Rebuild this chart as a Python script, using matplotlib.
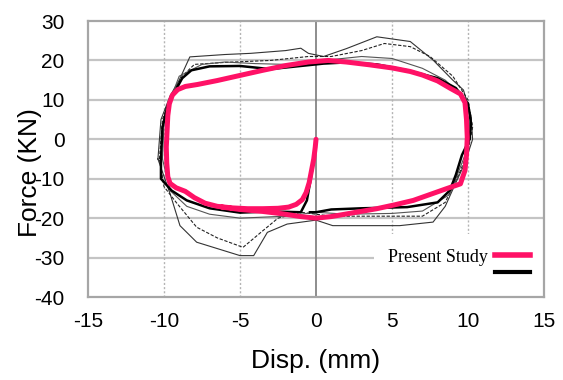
import numpy as np
import matplotlib.pyplot as plt
from matplotlib.lines import Line2D

plt.rcParams['font.family'] = ['Liberation Sans', 'DejaVu Sans']
plt.rcParams['axes.unicode_minus'] = False

# Present Study (numerical) loop
study_x = [0.0, -0.05, -0.15, -0.3, -0.45, -0.65, -0.9, -1.3, -1.8, -2.5, -3.5, -4.5, -5.5,
           -6.5, -7.3, -8.0, -8.6, -9.2, -9.6, -9.75, -9.82, -9.85, -9.8, -9.75, -9.65, -9.45,
           -9.1, -8.6, -7.8, -6.5, -5.0, -3.5, -2.0, -0.5, 0.8, 2.0, 3.5, 5.0, 6.2, 7.0, 8.0,
           8.8, 9.5, 9.8, 9.9, 9.95, 9.9, 9.8, 9.5, 8.6, 7.5, 6.4, 5.2, 4.0, 2.5, 1.0, 0.0,
           -1.0, -2.2, -3.5, -5.0, -6.2]
study_y = [0.0, -2.0, -5.0, -8.0, -11.0, -13.5, -15.3, -16.5, -17.2, -17.5, -17.6, -17.6,
           -17.4, -17.0, -16.2, -14.8, -13.2, -12.3, -11.2, -9.5, -6.0, -2.0, 2.0, 6.0, 9.0,
           11.2, 12.6, 13.4, 13.9, 14.9, 16.2, 17.5, 18.7, 19.6, 20.0, 19.6, 18.9, 18.1, 17.2,
           16.3, 14.8, 13.0, 11.5, 9.3, 5.0, 0.5, -4.0, -7.9, -11.3, -12.5, -14.0, -15.5,
           -16.6, -17.6, -18.6, -19.6, -20.0, -19.6, -18.9, -18.3, -17.8, -17.2]

# Experimental loops (test results)
exp_a_x = [0.0, -0.3, -0.6, -1.0, -3.0, -5.0, -7.0, -8.5, -9.5, -10.2, -10.2, -10.1, -9.8,
           -9.3, -8.8, -8.2, -7.0, -5.0, -3.0, -1.0, 0.5, 2.0, 4.0, 6.0, 8.0, 9.2, 10.0, 10.2,
           10.1, 9.6, 9.2, 8.8, 8.0, 6.0, 3.0, 1.0, 0.0, -0.4]
exp_a_y = [0.0, -9.0, -15.5, -18.5, -18.3, -18.6, -17.5, -15.5, -13.0, -10.0, -5.0, 3.0, 8.0,
           12.0, 15.5, 17.5, 18.5, 18.6, 17.8, 18.6, 19.2, 19.5, 19.0, 17.5, 15.5, 13.0, 9.0,
           4.0, 0.0, -4.0, -9.0, -13.0, -16.0, -17.2, -17.5, -17.8, -18.5, -18.5]

exp_b_x = [-10.3, -10.1, -9.5, -8.8, -8.0, -6.0, -3.0, -0.5, 1.0, 3.0, 4.5, 6.2, 7.5, 9.0,
           10.0, 10.3, 10.0, 9.5, 9.0, 8.5, 7.0, 4.0, 1.0, 0.0, -1.0, -2.5, -3.5, -4.8, -6.5,
           -7.85, -9.2, -10.0, -10.3]
exp_b_y = [-5.0, 5.0, 11.0, 16.0, 19.0, 19.5, 20.0, 21.0, 21.0, 22.5, 24.3, 23.5, 21.0, 16.0,
           10.0, 3.0, -3.0, -8.0, -12.0, -16.0, -19.5, -19.5, -19.5, -19.0, -18.5, -20.0,
           -23.2, -27.4, -25.0, -22.3, -16.0, -12.0, -5.0]

exp_c_x = [-10.4, -10.2, -9.6, -9.0, -8.3, -6.0, -4.3, -2.0, -1.0, -0.5, 0.5, 2.0, 4.0, 6.2,
           7.7, 9.0, 9.7, 10.2, 10.3, 9.8, 9.2, 8.5, 7.7, 5.5, 1.1, 0.0, -1.9, -3.2, -4.1,
           -5.0, -7.85, -8.95, -9.6, -10.4]
exp_c_y = [-5.0, 5.0, 11.0, 15.0, 20.9, 21.5, 21.8, 22.5, 23.1, 21.8, 21.0, 23.0, 26.0, 24.8,
           20.1, 15.0, 12.5, 6.0, 0.0, -6.0, -11.0, -17.0, -21.0, -21.9, -21.9, -20.5, -21.5,
           -23.6, -29.5, -29.5, -26.1, -21.9, -13.8, -5.0]

exp_d_x = [-10.1, -10.0, -9.6, -9.0, -7.5, -6.0, -4.0, -2.0, 0.0, 1.0, 3.0, 5.0, 7.0, 8.5,
           9.6, 10.1, 10.0, 9.4, 8.8, 7.0, 5.0, 2.0, 0.0, -2.0, -5.0, -7.0, -8.5, -9.6, -10.1]
exp_d_y = [-5.0, 4.0, 10.0, 16.0, 19.0, 19.6, 19.2, 19.0, 20.0, 20.2, 21.0, 20.5, 18.0, 15.0,
           11.0, 4.0, -2.0, -8.0, -14.0, -18.2, -18.8, -19.0, -18.5, -19.5, -20.0, -19.0,
           -17.0, -13.0, -5.0]

x_ticks = [-15, -10, -5, 0, 5, 10, 15]
y_ticks = [30, 20, 10, 0, -10, -20, -30, -40]

fig = plt.figure(figsize=(5.63, 3.80), dpi=100)
ax = fig.add_axes([0.1563, 0.2184, 0.81, 0.7263])

# grid
for yv in y_ticks[1:-1]:
    ax.axhline(yv, color='#c4c4c4', lw=1.6, zorder=0)
for xv in [-10, -5, 5, 10]:
    ax.axvline(xv, color='#b4b4b4', lw=1.0, ls=(0, (1.5, 1.5)), zorder=0)
ax.axvline(0, color='#7a7a7a', lw=1.2, zorder=0)

# experimental loops
ax.plot(exp_c_x, exp_c_y, color='#333333', lw=0.8, zorder=2)
ax.plot(exp_b_x, exp_b_y, color='#222222', lw=0.8, ls=(0, (3, 1.5)), zorder=2)
ax.plot(exp_d_x, exp_d_y, color='#555555', lw=0.8, zorder=2)
ax.plot(exp_a_x, exp_a_y, color='black', lw=1.8, zorder=3)

# present study
ax.plot(study_x, study_y, color='#ff1166', lw=3.6, solid_capstyle='round',
        solid_joinstyle='round', zorder=5)

ax.set_xlim(-15, 15)
ax.set_ylim(-40, 30)
ax.set_xticks(x_ticks)
ax.set_yticks(y_ticks)
ax.set_xticklabels([str(v) for v in x_ticks])
ax.set_yticklabels([str(v) for v in y_ticks])
ax.tick_params(axis='both', length=0, labelsize=15)
ax.tick_params(axis='y', pad=17)
ax.tick_params(axis='x', pad=11)
for s in ax.spines.values():
    s.set_color('#a6a6a6')
    s.set_linewidth(1.6)
    s.set_zorder(12)

ax.set_xlabel('Disp. (mm)', fontsize=19, labelpad=13)
fig.text(0.053, 0.545, 'Force (KN)', rotation=90, ha='center', va='center', fontsize=19)

handles = [Line2D([], [], color='#ff1166', lw=4), Line2D([], [], color='black', lw=3)]
leg = ax.legend(handles, ['Present Study', ''], loc='lower right', markerfirst=False,
                prop={'family': 'Liberation Serif', 'size': 13}, frameon=True,
                facecolor='white', edgecolor='none', framealpha=1, fancybox=False,
                handlelength=1.9, labelspacing=0.0, borderaxespad=0.0,
                borderpad=0.8, handletextpad=0.4)
leg.set_zorder(10)

fig.savefig('out.png', dpi=100)
